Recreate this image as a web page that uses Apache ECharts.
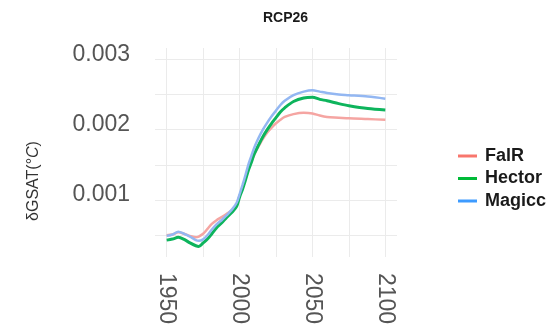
<!DOCTYPE html>
<html>
<head>
<meta charset="utf-8">
<script src="https://cdn.jsdelivr.net/npm/echarts@6/dist/echarts.min.js"></script>
<style>
  html, body { margin: 0; padding: 0; background: #fff; }
  #chart { width: 555px; height: 331px; }
</style>
</head>
<body>
<div id="chart"></div>
<script>
// Global surface air temperature response, RCP2.6 scenario
const years = [1950, 1954, 1958, 1962, 1966, 1970, 1972, 1975, 1978, 1981, 1984, 1988, 1991, 1995, 1998,
  2000, 2002, 2004, 2006, 2008, 2010, 2013, 2016, 2019, 2022, 2025, 2028, 2031, 2037, 2044, 2050,
  2055, 2060, 2068, 2075, 2088, 2100];

const falr = [0.00050, 0.00051, 0.00054, 0.00052, 0.00049, 0.00047, 0.00048, 0.00052, 0.00059, 0.00066, 0.00071,
  0.00076, 0.00080, 0.00086, 0.00094,
  0.00106, 0.00117, 0.00130, 0.00143, 0.00154, 0.00164, 0.00176, 0.00187, 0.00196, 0.00203, 0.00209, 0.00214,
  0.00218, 0.00222, 0.00224, 0.00223,
  0.00220, 0.00218, 0.00217, 0.00216, 0.00215, 0.00214];

const hector = [0.00043, 0.000445, 0.00047, 0.00044, 0.00039, 0.00035, 0.00034, 0.00039, 0.000445, 0.00052, 0.00060,
  0.00068, 0.00075, 0.00083, 0.00091,
  0.00104, 0.00115, 0.00128, 0.00142, 0.00153, 0.00165, 0.00178, 0.00190, 0.00200, 0.00209, 0.00217, 0.00225,
  0.00231, 0.00240, 0.00245, 0.00246,
  0.00243, 0.00241, 0.00237, 0.00234, 0.00230, 0.00228];

const magicc = [0.00049, 0.00051, 0.00055, 0.00052, 0.00048, 0.00043, 0.00042, 0.00044, 0.00050, 0.00058, 0.00065,
  0.00072, 0.00078, 0.00087, 0.00096,
  0.00108, 0.00121, 0.00135, 0.00150, 0.00162, 0.00174, 0.00188, 0.00200, 0.00210, 0.00219, 0.00227, 0.00235,
  0.00241, 0.00249, 0.00254, 0.00256,
  0.00254, 0.00252, 0.00250, 0.00249, 0.00247, 0.00244];

const xGrid = [1950, 1975, 2000, 2025, 2050, 2075, 2100];
const xLabels = [1950, 2000, 2050, 2100];
const yGrid = [0.0005, 0.001, 0.0015, 0.002, 0.0025, 0.003];
const yLabels = [0.001, 0.002, 0.003];

const FONT = 'Liberation Sans, Arial, Helvetica, sans-serif';

function pairs(vals) {
  return years.map((y, i) => [y, vals[i]]);
}

const chart = echarts.init(document.getElementById('chart'), null, { renderer: 'canvas' });

chart.setOption({
  animation: false,
  backgroundColor: '#ffffff',
  textStyle: { fontFamily: FONT },
  title: {
    text: 'RCP26',
    left: 258,
    top: 6,
    textStyle: { fontSize: 14, fontWeight: 'bold', color: '#1a1a1a', fontFamily: FONT }
  },
  grid: { left: 155, right: 158, top: 48, bottom: 74, containLabel: false },
  legend: {
    orient: 'vertical',
    left: 453,
    top: 142,
    icon: 'rect',
    itemWidth: 19,
    itemHeight: 3,
    itemGap: 4.5,
    textStyle: { fontSize: 18, fontWeight: 'bold', color: '#1a1a1a', lineHeight: 18, fontFamily: FONT, padding: [0, 0, 0, 3] },
    data: [
      { name: 'FalR', itemStyle: { color: '#f8766d' } },
      { name: 'Hector', itemStyle: { color: '#00ba38' } },
      { name: 'Magicc', itemStyle: { color: '#3d9bff' } }
    ]
  },
  xAxis: {
    type: 'value',
    min: 1942,
    max: 2108,
    axisLine: { show: false },
    axisTick: { show: false, customValues: xGrid },
    axisLabel: {
      customValues: xLabels,
      rotate: -90,
      margin: 16,
      fontSize: 23,
      color: '#555555',
      fontFamily: FONT,
      formatter: v => String(v)
    },
    splitLine: { show: true, lineStyle: { color: '#ebebeb', width: 1 } }
  },
  yAxis: {
    type: 'value',
    min: 0.00019,
    max: 0.00316,
    axisLine: { show: false },
    axisTick: { show: false, customValues: yGrid },
    axisLabel: {
      customValues: yLabels,
      margin: 25,
      fontSize: 23,
      color: '#555555',
      fontFamily: FONT,
      verticalAlign: 'bottom',
      lineHeight: 10,
      formatter: v => v.toFixed(3)
    },
    splitLine: { show: true, lineStyle: { color: '#ebebeb', width: 1 } }
  },
  graphic: [
    {
      type: 'text',
      x: 34,
      y: 181,
      rotation: Math.PI / 2,
      style: {
        text: '{a|δGSAT(°}{b|C}{a|)}',
        align: 'center',
        verticalAlign: 'middle',
        rich: {
          a: { fontSize: 16, fill: '#333333', fontFamily: FONT },
          b: { fontSize: 16, fill: '#333333', fontFamily: FONT, fontStyle: 'italic' }
        }
      }
    }
  ],
  series: [
    {
      name: 'FalR',
      type: 'line',
      data: pairs(falr),
      showSymbol: false,
      smooth: 0.3,
      color: '#f8766d',
      lineStyle: { color: '#f5a5a2', width: 2.5 }
    },
    {
      name: 'Hector',
      type: 'line',
      data: pairs(hector),
      showSymbol: false,
      smooth: 0.3,
      color: '#00ba38',
      lineStyle: { color: '#0db45c', width: 3 }
    },
    {
      name: 'Magicc',
      type: 'line',
      data: pairs(magicc),
      showSymbol: false,
      smooth: 0.3,
      color: '#3d9bff',
      lineStyle: { color: '#93b7f2', width: 2.5 }
    }
  ]
});
</script>
</body>
</html>
